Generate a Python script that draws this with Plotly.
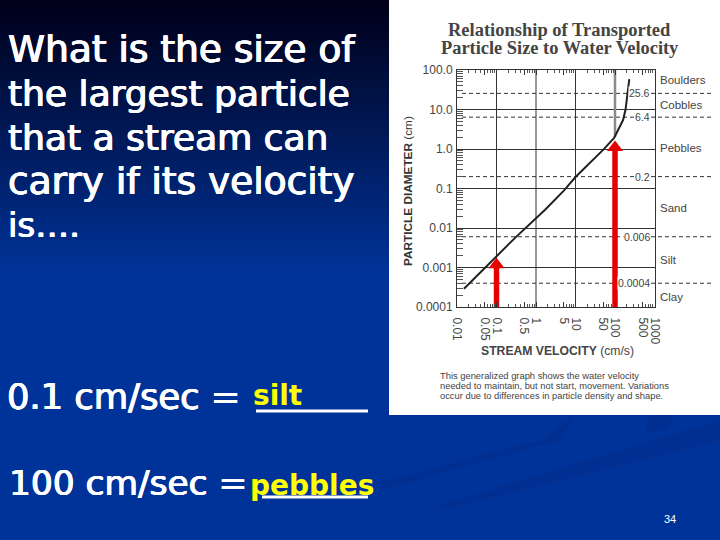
import math
import plotly.graph_objects as go

# ---- data ----
velocity = [0.015, 0.03, 0.09, 0.3, 1.7, 5, 10, 25, 50, 95, 130, 160, 185, 200, 215, 230]
diameter = [0.00029, 0.00058, 0.0018, 0.0057, 0.029, 0.087, 0.195, 0.47, 0.95, 1.9, 3.4, 5.4, 10, 17, 32, 59]
x_ticks = [0.01, 0.05, 0.1, 0.5, 1, 5, 10, 50, 100, 500, 1000]
x_tick_text = ["0.01", "0.05", "0.1", "0.5", "1", "5", "10", "50", "100", "500", "1000"]
x_minor = [m * d for d in [0.01, 0.1, 1, 10, 100] for m in [2, 3, 4, 6, 7, 8, 9]]
y_ticks = [0.0001, 0.001, 0.01, 0.1, 1, 10, 100]
y_tick_text = ["0.0001", "0.001", "0.01", "0.1", "1.0", "10.0", "100.0"]
y_minor = [m * d for d in [0.0001, 0.001, 0.01, 0.1, 1, 10] for m in [2, 3, 4, 5, 6, 7, 8, 9]]
boundaries = [25.6, 6.4, 0.2, 0.006, 0.0004]
boundary_text = ["25.6", "6.4", "0.2", "0.006", "0.0004"]
classes = ["Boulders", "Cobbles", "Pebbles", "Sand", "Silt", "Clay"]
class_y = [56, 13, 1.06, 0.032, 0.00155, 0.00018]
arrow_x = [0.1, 100]
arrow_top = [0.0019, 1.75]
question = ["What is the size of", "the largest particle", "that a stream can", "carry if its velocity", "is…."]
question_font = [37.5, 36, 36, 37.5, 34]

W, H = 720, 540
px = lambda x: x / W
py = lambda y: 1 - y / H

fig = go.Figure()
shapes, ann = [], []

# background gradient stripes
top, bottom = (0, 0, 25), (0, 51, 153)
n = 108
for i in range(n):
    t = min(1, i / (n * 0.5))
    c = tuple(int(a + (b - a) * t) for a, b in zip(top, bottom))
    shapes.append(dict(type="rect", xref="paper", yref="paper", layer="below",
                       x0=0, x1=1, y0=py((i + 1) * H / n + 1), y1=py(i * H / n),
                       fillcolor=f"rgb{c}", line_width=0))

# darker streaks lower right
def streak(points):
    d = " ".join(("M" if j == 0 else "L") + f" {px(x):.4f} {py(y):.4f}" for j, (x, y) in enumerate(points)) + " Z"
    shapes.append(dict(type="path", xref="paper", yref="paper", layer="below", path=d,
                       fillcolor="rgba(0,35,125,0.28)", line_width=0))
streak([(380, 482), (540, 440), (575, 415), (560, 440), (380, 490)])
streak([(440, 505), (720, 420), (720, 440), (600, 470), (440, 510)])
streak([(650, 415), (675, 415), (665, 430), (645, 432)])

# white panel
shapes.append(dict(type="rect", xref="paper", yref="paper", layer="below",
                   x0=px(389), x1=1, y0=py(415), y1=1, fillcolor="white", line_width=0))

# dashed class boundaries
for b in boundaries:
    shapes.append(dict(type="line", xref="paper", yref="y", x0=px(462), x1=px(713), y0=b, y1=b,
                       line=dict(color="#333", width=1, dash="4px,3px"), layer="below"))

# vertical decade lines
for d in [0.1, 1, 10]:
    shapes.append(dict(type="line", xref="x", yref="paper", x0=d, x1=d, y0=py(307), y1=py(70),
                       line=dict(color="#333", width=1), layer="below"))

# underlines
shapes.append(dict(type="line", xref="paper", yref="paper", x0=px(256), x1=px(368), y0=py(411), y1=py(411),
                   line=dict(color="white", width=3)))
shapes.append(dict(type="line", xref="paper", yref="paper", x0=px(262), x1=px(368), y0=py(497), y1=py(497),
                   line=dict(color="white", width=3)))

# gray top of the 100 cm/s line
fig.add_trace(go.Scatter(x=[100, 100], y=[2, 100], mode="lines", line=dict(color="#8a8a8a", width=2.5),
                         hoverinfo="skip", showlegend=False))
# curve
fig.add_trace(go.Scatter(x=velocity, y=diameter, mode="lines", line=dict(color="#222", width=2),
                         showlegend=False))
# red arrows
for x, t in zip(arrow_x, arrow_top):
    fig.add_trace(go.Scatter(x=[x, x], y=[0.0001, t * 0.6], mode="lines", line=dict(color="#e60000", width=5.5),
                             showlegend=False))
    fig.add_trace(go.Scatter(x=[x], y=[t * 0.62], mode="markers",
                             marker=dict(symbol="triangle-up", size=14, color="#e60000"), showlegend=False))

BOLD = "0.6px 0 0 white, -0.6px 0 0 white, 0 0.4px 0 white"

def text(x, y, s, size, color, family="Liberation Sans", anchor="left", shadow=None, **k):
    f = dict(size=size, color=color, family=family)
    if shadow:
        f["shadow"] = shadow
    ann.append(dict(xref="paper", yref="paper", x=px(x), y=py(y), text=s, showarrow=False,
                    xanchor=anchor, yanchor="middle", font=f, **k))

for i, (q, fs) in enumerate(zip(question, question_font)):
    text(6, 49 + i * 44, q, fs, "white", "DejaVu Sans", shadow=BOLD)
text(5, 396, "0.1 cm/sec =", 35.3, "white", "DejaVu Sans", shadow=BOLD)
text(7, 483, "100 cm/sec =", 34.4, "white", "DejaVu Sans", shadow=BOLD)
text(251, 395, "<b>silt</b>", 28, "#ffff00", "DejaVu Sans")
text(248, 485, "<b>pebbles</b>", 28, "#ffff00", "DejaVu Sans")
text(670, 519, "34", 11, "white", anchor="center")

text(559.5, 30, "<b>Relationship of Transported</b>", 18.5, "#444", "Liberation Serif", anchor="center")
text(559.5, 48, "<b>Particle Size to Water Velocity</b>", 18.4, "#444", "Liberation Serif", anchor="center")
text(557, 351, "<b>STREAM VELOCITY</b> (cm/s)", 12.2, "#444", anchor="center")
text(408, 191, "<b>PARTICLE DIAMETER</b> (cm)", 11.8, "#333", anchor="center", textangle=-90)
for i, s in enumerate(["This generalized graph shows the water velocity",
                       "needed to maintain, but not start, movement. Variations",
                       "occur due to differences in particle density and shape."]):
    text(438, 376 + i * 10, s, 9.35, "#444")
for c, y in zip(classes, class_y):
    ann.append(dict(xref="paper", yref="y", x=px(658), y=math.log10(y), text=c, showarrow=False,
                    xanchor="left", font=dict(size=11.5, color="#444", family="Liberation Sans")))
for b, s in zip(boundaries, boundary_text):
    ann.append(dict(xref="paper", yref="y", x=px(651), y=math.log10(b), text=s, showarrow=False, xanchor="right",
                    bgcolor="white", borderpad=0, font=dict(size=10.5, color="#444", family="Liberation Sans")))

axis = dict(showline=True, linecolor="#333", linewidth=1, gridcolor="#333", gridwidth=1, automargin=False,
            ticks="inside", ticklen=5, tickcolor="#333", tickfont=dict(size=12, color="#444", family="Liberation Sans"),
            zeroline=False)
fig.update_layout(
    width=W, height=H, margin=dict(l=0, r=0, t=0, b=0, pad=0, autoexpand=False), autosize=False, showlegend=False,
    paper_bgcolor="#003399", plot_bgcolor="rgba(0,0,0,0)", shapes=shapes, annotations=ann,
    xaxis=dict(type="log", range=[-2, 3], domain=[px(457), px(654.5)], tickmode="array", tickvals=x_ticks,
               ticktext=x_tick_text, tickangle=90, showgrid=False, mirror="ticks", ticklabelstandoff=7,
               minor=dict(tickmode="array", tickvals=x_minor, ticks="inside", ticklen=3, tickcolor="#555"), **axis),
    yaxis=dict(type="log", range=[-4, 2], domain=[py(307), py(70)], tickmode="array", tickvals=y_ticks,
               ticktext=y_tick_text, showgrid=True, mirror=True, ticklabelstandoff=1,
               minor=dict(tickmode="array", tickvals=y_minor, ticks="inside", ticklen=6, tickcolor="#555"), **axis),
)
fig.write_html("out.html", config=dict(displayModeBar=False),
               post_script="document.body.style.margin='0';document.documentElement.style.background='#003399';")
